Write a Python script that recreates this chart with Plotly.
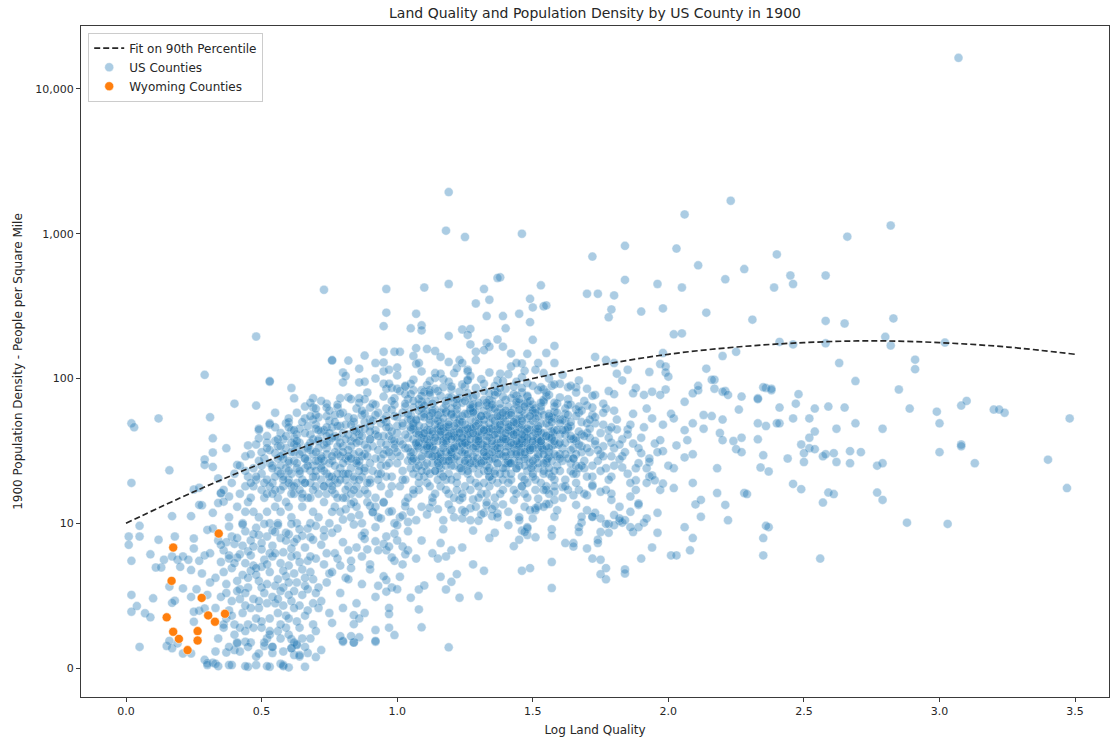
import plotly.graph_objects as go

# ---------------------------------------------------------------------------
# County values: (log land quality, people per square mile in 1900)
# ---------------------------------------------------------------------------

# Thin scatter above the main cloud, mostly x > 1.35
upper_east = [
    (3.07, 16400), (1.19, 1940), (1.46, 1000), (2.23, 1690), (2.06, 1360), (2.82, 1140),
    (2.66, 955), (1.84, 825), (1.72, 695), (2.03, 790), (2.40, 720), (2.11, 605),
    (2.28, 570), (2.45, 515), (2.58, 515), (2.46, 450), (2.39, 425), (2.21, 485),
    (1.84, 480), (1.96, 450), (2.05, 425), (1.70, 385), (1.74, 385), (1.80, 375),
    (1.53, 440), (1.38, 500), (1.49, 355), (1.50, 310), (1.54, 315), (1.55, 320),
    (1.79, 300), (1.78, 265), (1.90, 290), (1.98, 305), (2.14, 285), (2.31, 255),
    (2.58, 250), (2.65, 240), (2.83, 260), (1.39, 270), (1.40, 222), (1.45, 280),
    (1.49, 245), (1.50, 185), (1.58, 168), (1.55, 150), (1.58, 128), (1.73, 141),
    (1.77, 134), (1.80, 128), (2.02, 202), (2.05, 205), (1.98, 150), (1.97, 126),
    (1.99, 121), (1.99, 110), (1.93, 111), (1.85, 115), (1.81, 108), (1.83, 97),
    (2.00, 103), (2.14, 117), (2.17, 98), (2.20, 143), (2.25, 153), (2.41, 179),
    (2.46, 172), (2.58, 175), (2.80, 194), (2.82, 169), (3.02, 177), (2.63, 128),
    (2.91, 135), (2.91, 116), (2.36, 86), (2.38, 83), (2.33, 73), (2.27, 75),
    (2.21, 82), (2.17, 85), (2.11, 83), (1.99, 84), (1.97, 77), (1.94, 81),
    (1.88, 86), (1.87, 79), (1.91, 77), (1.78, 82), (1.80, 78), (1.73, 77),
    (1.70, 85), (1.66, 87), (1.63, 87), (1.60, 92), (1.57, 89), (1.52, 128),
    (1.46, 127), (1.42, 121), (1.47, 113), (1.48, 148), (1.44, 128), (1.42, 149),
    (1.39, 166), (1.38, 108), (1.54, 109),
]

# Thin scatter above the main cloud, x < 1.4
upper_west = [
    (1.18, 1050), (1.25, 950), (1.37, 495), (1.19, 450), (1.10, 425), (0.96, 415),
    (0.73, 410), (1.32, 415), (1.34, 350), (1.29, 330), (1.33, 270), (0.96, 285),
    (1.07, 280), (0.95, 230), (1.05, 222), (1.09, 233), (1.09, 215), (1.19, 197),
    (1.24, 218), (1.27, 220), (1.26, 200), (1.37, 186), (1.27, 172), (1.33, 176),
    (1.34, 166), (1.32, 157), (1.29, 153), (1.07, 162), (1.11, 160), (1.14, 155),
    (1.16, 141), (1.06, 143), (0.99, 153), (1.01, 153), (0.95, 153), (0.88, 144),
    (0.82, 133), (0.76, 133), (0.92, 128), (0.95, 129), (0.95, 112), (0.97, 115),
    (1.00, 119), (0.86, 117), (0.80, 110), (0.81, 104), (0.80, 94), (0.86, 94),
    (0.88, 95), (0.92, 100), (0.95, 92), (1.07, 126), (1.08, 128), (1.14, 109),
    (1.19, 130), (1.23, 134), (1.24, 128), (1.26, 115), (1.26, 112), (1.21, 109),
    (1.26, 98), (1.29, 134), (1.37, 97), (0.61, 86), (0.62, 73), (0.53, 95),
    (0.48, 195), (0.29, 106), (0.40, 67), (0.48, 65), (0.55, 58), (0.53, 48),
    (0.12, 53), (0.31, 54), (0.02, 49), (0.03, 46), (0.69, 73), (0.69, 63),
    (0.74, 67), (0.79, 73), (0.82, 74), (0.78, 63), (0.71, 54), (0.86, 73),
    (0.89, 80), (0.91, 67), (0.96, 85), (0.98, 86), (1.00, 85), (1.03, 89),
    (1.06, 83), (1.09, 83), (1.12, 83), (1.17, 99), (0.49, 44), (0.59, 49),
    (0.60, 53), (0.76, 134), (0.53, 96),
]

# Western fringe between 10 and 40 people per square mile
west_fringe = [
    (0.53, 49), (0.49, 45), (0.32, 38.6), (0.37, 33), (0.32, 30.8), (0.29, 27.6),
    (0.29, 25.3), (0.32, 24.5), (0.16, 23.2), (0.02, 19), (0.41, 25.3), (0.44, 29),
    (0.45, 34.5), (0.49, 38.6), (0.55, 30.5), (0.34, 20.4), (0.38, 15.3), (0.35, 16.2),
    (0.36, 14.1), (0.25, 17.1), (0.27, 17.6), (0.28, 13.3),
]

# Poor land, sparse settlement (x < 0.35)
far_west_low = [
    (0.05, 9.6), (0.01, 8.1), (0.01, 7.1), (0.05, 8.1), (0.02, 5.5), (0.09, 6.1),
    (0.12, 7.7), (0.18, 8.1), (0.02, 3.2), (0.04, 2.68), (0.02, 2.45), (0.07, 2.39),
    (0.09, 2.24), (0.10, 3.03), (0.05, 1.4), (0.15, 1.42), (0.16, 1.54), (0.11, 4.95),
    (0.13, 4.95), (0.14, 5.6), (0.17, 11.2), (0.17, 5.9), (0.19, 5.6), (0.20, 5.0),
    (0.21, 5.9), (0.24, 11.2), (0.25, 7.85), (0.25, 6.7), (0.23, 5.6), (0.24, 4.75),
    (0.21, 3.55), (0.18, 2.92), (0.16, 3.65), (0.17, 2.82), (0.26, 3.5), (0.24, 3.1),
    (0.27, 2.49), (0.25, 2.45), (0.25, 2.09), (0.29, 2.58), (0.30, 3.2), (0.31, 3.9),
    (0.28, 4.5), (0.27, 5.5), (0.29, 6.0), (0.31, 6.2), (0.30, 9.0), (0.32, 11.8),
    (0.35, 16.1), (0.34, 13.8), (0.27, 13.4), (0.32, 9.2), (0.34, 7.6), (0.24, 1.26),
    (0.29, 1.14), (0.30, 1.08), (0.32, 1.09), (0.38, 1.05), (0.45, 1.02), (0.48, 1.05),
    (0.53, 1.02), (0.58, 1.05), (0.17, 1.37), (0.21, 1.26), (0.19, 1.48),
]

# Lowest densities along the floor of the chart
floor = [
    (0.30, 1.05), (0.33, 1.07), (0.34, 1.03), (0.39, 1.05), (0.44, 1.03), (0.52, 1.03),
    (0.57, 1.07), (0.58, 1.03), (0.60, 1.01), (0.66, 1.02), (0.70, 1.19), (0.72, 1.33),
    (0.67, 1.27), (0.64, 1.2), (0.62, 1.23), (0.54, 1.27), (0.51, 1.42), (0.49, 1.26),
    (0.54, 1.4), (0.61, 1.37), (0.63, 1.46), (0.80, 1.52), (0.84, 1.5), (0.92, 1.52),
    (1.19, 1.39), (0.33, 1.3), (0.37, 1.28), (0.40, 1.33), (0.41, 1.48), (0.44, 1.52),
]

# Below 15 people per square mile, x from 0.75 to 2.4
low_middle = [
    (1.09, 1.91), (1.08, 2.54), (1.05, 3.06), (1.08, 3.49), (1.10, 3.72), (1.18, 3.49),
    (1.20, 3.94), (1.23, 3.06), (1.30, 3.14), (1.16, 4.27), (1.22, 4.45), (1.28, 5.2),
    (1.32, 4.7), (1.24, 6.8), (1.20, 6.5), (1.18, 5.9), (1.15, 5.7), (1.13, 6.2),
    (1.16, 7.3), (1.17, 9.1), (0.99, 1.69), (0.97, 1.9), (0.97, 2.36), (0.92, 1.83),
    (0.92, 1.54), (0.84, 1.5), (0.86, 1.63), (0.83, 1.66), (0.80, 1.54), (0.79, 1.66),
    (0.84, 2.32), (0.84, 2.01), (0.76, 2.05), (0.61, 1.58), (0.61, 1.37), (0.63, 1.44),
    (0.64, 1.23), (1.57, 3.57), (1.57, 5.4), (1.46, 4.7), (1.49, 4.9), (1.43, 6.95),
    (1.45, 7.7), (1.46, 8.9), (1.48, 8.3), (1.51, 8.0), (1.48, 9.2), (1.50, 10.8),
    (1.45, 10.5), (1.41, 9.7), (1.36, 8.6), (1.34, 7.9), (1.28, 8.9), (1.07, 5.7),
    (1.04, 6.5), (1.09, 7.6), (1.02, 6.9), (0.99, 5.5), (1.01, 4.27), (0.98, 3.6),
    (0.96, 3.37), (0.96, 4.05), (0.96, 6.5), (1.62, 7.3), (1.65, 7.3), (1.65, 6.9),
    (1.70, 6.7), (1.72, 5.7), (1.75, 5.6), (1.77, 4.9), (1.75, 4.45), (1.77, 4.1),
    (1.84, 4.8), (1.84, 4.5), (1.90, 5.7), (1.94, 6.8), (1.96, 8.6), (1.96, 11.8),
    (2.01, 6.0), (2.03, 6.0), (2.08, 6.5), (2.09, 7.9), (2.06, 9.4), (2.12, 11.1),
    (2.10, 13.5), (2.12, 14.5), (2.21, 13.4), (2.22, 10.5), (2.35, 7.9), (2.35, 6.0),
    (2.37, 9.4), (1.92, 10.8), (1.91, 10.1), (1.89, 9.4), (1.87, 8.7), (1.82, 10.4),
    (1.83, 10.1), (1.78, 9.9), (1.78, 8.6), (1.75, 8.7), (1.74, 7.7), (1.74, 7.3),
    (1.73, 11.8), (1.72, 11.1), (1.68, 10.1), (1.67, 8.7), (1.79, 14.5), (1.89, 13.4),
    (1.59, 12.3), (1.56, 13.6), (1.57, 9.1), (1.57, 8.2), (1.51, 12.3), (1.52, 13.1),
    (1.55, 13.6), (1.47, 8.7), (1.37, 11.7), (1.35, 11.2), (1.32, 11.8), (1.30, 10.4),
    (1.33, 13.3), (1.27, 12.7), (1.24, 12.3),
]

# Best land, x > 2.4
far_east = [
    (2.69, 96), (2.85, 84), (2.48, 78), (2.47, 67), (2.41, 63), (2.54, 62),
    (2.59, 64), (2.65, 63), (2.89, 62), (2.99, 59), (3.08, 65), (3.10, 70),
    (3.20, 61), (3.22, 61), (3.24, 58), (3.48, 53), (2.46, 53), (2.52, 53),
    (2.41, 49), (2.69, 49), (2.62, 45), (2.79, 45), (3.00, 49), (2.54, 43),
    (2.52, 39), (2.49, 35), (2.52, 33), (2.54, 32.5), (2.50, 30.5), (2.44, 28),
    (2.50, 26.5), (2.57, 29), (2.58, 30), (2.61, 30.5), (2.62, 26.5), (2.67, 31.5),
    (2.71, 31), (2.67, 26), (2.77, 25), (2.79, 26), (3.00, 31), (3.08, 35),
    (3.08, 34), (3.13, 26), (3.40, 27.5), (3.47, 17.5), (2.46, 18.7), (2.49, 17.2),
    (2.59, 16.3), (2.61, 15.9), (2.57, 13.9), (2.77, 16.3), (2.79, 14.5), (2.88, 10.1),
    (3.03, 9.9), (2.56, 5.7),
]

# Between the main cloud and x = 2.4
east_middle = [
    (2.06, 69), (2.09, 79), (2.11, 89), (2.16, 98), (2.20, 81), (2.22, 77),
    (2.33, 72), (2.35, 87), (2.38, 85), (2.36, 47), (2.33, 49), (2.40, 49),
    (2.26, 61), (2.20, 52), (2.16, 55), (2.13, 56), (2.13, 45), (2.19, 42),
    (2.09, 49), (2.06, 44), (2.02, 53), (2.01, 57), (1.98, 48), (2.24, 37),
    (2.27, 39), (2.25, 32.5), (2.27, 31), (2.20, 37.5), (2.33, 38), (2.35, 29.5),
    (2.34, 24.3), (2.37, 22.8), (2.18, 24), (2.07, 37.5), (2.06, 28.5), (2.09, 30),
    (2.03, 34.5), (1.98, 31.5), (2.02, 24), (2.00, 25), (2.09, 19), (2.18, 16.2),
    (2.28, 16.2), (2.29, 15.9), (2.36, 9.6), (2.02, 17.5), (1.97, 17), (1.98, 18.8),
    (1.96, 31), (1.95, 35.5), (1.97, 37.5), (1.93, 26.5), (1.92, 24), (1.93, 21),
    (1.89, 26), (1.90, 30.5), (1.87, 35.5), (1.83, 38), (1.85, 44.5), (1.81, 44.5),
    (1.79, 46), (1.80, 33), (1.79, 29), (1.82, 27.6), (1.80, 25), (1.77, 24),
    (1.79, 21), (1.83, 24.3), (1.85, 22), (1.94, 21.4), (1.95, 19.8), (1.88, 19.8),
    (1.92, 19), (1.86, 19), (1.88, 17), (1.86, 15.3), (1.89, 13.7), (1.86, 12),
    (1.84, 10.5), (1.82, 10.8), (1.80, 11.4), (1.80, 9.7), (1.82, 13), (1.79, 16),
    (1.77, 17), (1.75, 16.5), (1.72, 18.4), (1.72, 21), (1.70, 15.6), (1.67, 17),
    (1.65, 15.6), (1.66, 13.4), (1.70, 12.3), (1.68, 11.1), (1.72, 11.1), (1.75, 10.8),
    (1.77, 9.9), (1.86, 9.4), (1.58, 16.5), (1.61, 17.8), (1.55, 17), (1.58, 14.5),
    (1.52, 14.8), (1.54, 13), (1.51, 12.7), (1.49, 12.3), (1.48, 9.4), (1.58, 11.1),
    (1.67, 9.4),
    (1.61, 27), (1.63, 45), (1.65, 33), (1.67, 58), (1.69, 24), (1.71, 39),
    (1.73, 49), (1.75, 30), (1.77, 62), (1.79, 36), (1.81, 52), (1.83, 29),
    (1.85, 41), (1.87, 57), (1.89, 33), (1.91, 46), (1.93, 28), (1.62, 51),
    (1.66, 37), (1.70, 65), (1.74, 27), (1.78, 44), (1.82, 35), (1.86, 48),
    (1.90, 39), (1.94, 53), (1.64, 23), (1.68, 31), (1.72, 56), (1.76, 34),
    (1.80, 60), (1.84, 31), (1.88, 24), (1.92, 62),
]

# Main cloud, 10 to 22 people per square mile
core_10_22 = [
    (1.01, 11), (1.03, 14), (1.05, 12), (1.07, 10.5), (1.09, 13), (1.11, 11.5),
    (1.13, 14), (1.15, 12.5), (1.17, 10.5), (1.19, 13.5), (1.21, 11), (1.23, 14.5),
    (1.25, 12), (1.27, 10.5), (1.29, 13), (1.31, 11.5), (1.33, 14), (1.35, 12.5),
    (1.37, 11), (1.39, 13.5), (1.41, 12), (1.43, 14.5), (1.45, 11), (1.47, 13),
    (1.12, 12.8), (1.20, 12.4), (1.28, 14.6), (1.36, 13.2), (1.04, 10.2), (1.24, 10.8),
    (0.97, 16), (1.01, 18), (1.04, 15), (1.08, 17), (1.11, 19), (1.13, 15),
    (1.16, 18), (1.19, 16), (1.22, 19), (1.24, 15), (1.27, 17), (1.29, 19),
    (1.31, 16), (1.34, 18), (1.36, 15), (1.39, 17), (1.41, 19), (1.44, 16),
    (1.46, 18), (1.48, 15), (1.51, 17), (1.53, 19), (1.56, 16), (1.58, 18),
    (1.61, 15), (1.63, 17), (1.66, 19), (1.69, 16), (1.72, 18), (1.06, 16),
    (1.18, 17), (1.25, 18), (1.33, 16), (1.43, 17), (1.55, 18), (1.21, 15),
    (1.37, 19), (1.47, 16), (1.12, 18), (1.30, 15),
    (1.02, 20), (1.06, 17), (1.10, 21), (1.14, 16), (1.18, 20), (1.22, 17),
    (1.26, 22), (1.30, 18), (1.34, 21), (1.38, 16), (1.42, 20), (1.46, 18),
    (1.50, 21), (1.54, 17), (1.58, 20), (1.62, 18), (1.66, 22), (1.08, 19),
    (1.16, 22), (1.24, 16), (1.32, 19), (1.40, 22), (1.48, 19), (1.56, 22),
]

# Main cloud, 20 to 36 people per square mile
core_20_36 = [
    (0.93, 22), (0.96, 25), (0.98, 21), (1.00, 26), (1.02, 23), (1.03, 20),
    (1.05, 24), (1.07, 27), (1.08, 21), (1.10, 25), (1.12, 22), (1.13, 26),
    (1.15, 20), (1.16, 24), (1.18, 27), (1.19, 22), (1.21, 25), (1.22, 21),
    (1.24, 23), (1.25, 26), (1.27, 20), (1.28, 24), (1.30, 22), (1.31, 27),
    (1.33, 25), (1.34, 21), (1.36, 23), (1.37, 26), (1.39, 20), (1.40, 24),
    (1.42, 22), (1.43, 27), (1.45, 25), (1.46, 21), (1.48, 23), (1.49, 26),
    (1.51, 20), (1.52, 24), (1.54, 22), (1.55, 26), (1.57, 21), (1.59, 25),
    (1.60, 23), (1.62, 20), (1.64, 26), (1.65, 22), (1.67, 24), (1.70, 21),
    (1.72, 25), (1.75, 23), (1.78, 20), (1.06, 22), (1.14, 23), (1.20, 20),
    (1.26, 25), (1.32, 23), (1.38, 22), (1.44, 24), (1.50, 22), (1.58, 23),
    (1.35, 20), (1.29, 26), (1.23, 24), (1.17, 21), (1.11, 23), (1.41, 26),
    (1.47, 20),
    (0.88, 30), (0.91, 34), (0.94, 28), (0.96, 32), (0.99, 35), (1.01, 29),
    (1.03, 33), (1.04, 27), (1.06, 31), (1.07, 35), (1.09, 28), (1.10, 32),
    (1.12, 30), (1.13, 34), (1.15, 27), (1.16, 31), (1.17, 35), (1.19, 29),
    (1.20, 33), (1.21, 28), (1.23, 32), (1.24, 36), (1.25, 30), (1.27, 34),
    (1.28, 27), (1.29, 31), (1.31, 35), (1.32, 29), (1.33, 33), (1.35, 28),
    (1.36, 32), (1.37, 36), (1.38, 30), (1.40, 34), (1.41, 27), (1.42, 31),
    (1.44, 35), (1.45, 29), (1.46, 33), (1.48, 28), (1.49, 32), (1.50, 36),
    (1.52, 30), (1.53, 34), (1.55, 27), (1.56, 31), (1.58, 35), (1.59, 29),
    (1.61, 33), (1.63, 28), (1.64, 32), (1.66, 30), (1.68, 34), (1.69, 27),
    (1.71, 31), (1.73, 35), (1.76, 29), (0.86, 27), (1.00, 31), (1.05, 29),
    (1.11, 33), (1.14, 29), (1.18, 31), (1.22, 34), (1.26, 28), (1.30, 33),
    (1.34, 30), (1.39, 29), (1.43, 33), (1.47, 30), (1.51, 28), (1.54, 32),
    (1.57, 34), (1.60, 30), (1.65, 28), (1.08, 33), (1.20, 30), (1.32, 31),
    (1.44, 31), (1.56, 29), (1.26, 35), (1.36, 34), (1.16, 28), (1.46, 36),
    (1.12, 36), (1.48, 34), (1.52, 33),
]

# Heart of the main cloud, 22 to 88 people per square mile
core_heart = [
    (1.05, 31), (1.06, 38), (1.07, 24), (1.08, 43), (1.09, 29), (1.10, 35),
    (1.11, 26), (1.12, 40), (1.13, 33), (1.14, 23), (1.15, 44), (1.16, 30),
    (1.17, 37), (1.18, 25), (1.19, 41), (1.20, 28), (1.21, 34), (1.22, 45),
    (1.23, 27), (1.24, 39), (1.25, 32), (1.26, 23), (1.27, 42), (1.28, 29),
    (1.29, 36), (1.30, 25), (1.31, 40), (1.32, 31), (1.33, 44), (1.34, 27),
    (1.35, 35), (1.36, 22), (1.37, 38), (1.38, 33), (1.39, 43), (1.40, 26),
    (1.41, 37), (1.42, 30), (1.43, 41), (1.44, 24), (1.45, 34), (1.46, 45),
    (1.47, 28), (1.48, 38), (1.49, 32), (1.50, 25), (1.51, 42), (1.52, 29),
    (1.53, 36), (1.54, 23), (1.55, 40), (1.56, 33), (1.57, 27), (1.58, 44),
    (1.055, 27), (1.075, 34), (1.095, 41), (1.115, 30), (1.135, 37), (1.155, 25),
    (1.175, 43), (1.195, 32), (1.215, 39), (1.235, 24), (1.255, 36), (1.275, 45),
    (1.295, 28), (1.315, 35), (1.335, 23), (1.355, 41), (1.375, 30), (1.395, 38),
    (1.415, 26), (1.435, 44), (1.455, 31), (1.475, 36), (1.495, 24), (1.515, 39),
    (1.535, 33), (1.555, 28), (1.575, 42), (1.595, 35), (1.62, 30), (1.64, 38),
    (1.66, 25), (1.68, 41), (1.70, 33),
    (1.06, 45), (1.09, 23), (1.12, 34), (1.15, 29), (1.18, 36), (1.21, 42),
    (1.24, 31), (1.27, 26), (1.30, 38), (1.33, 34), (1.36, 28), (1.39, 24),
    (1.42, 40), (1.45, 27), (1.48, 43), (1.51, 35), (1.54, 30), (1.57, 38),
    (1.11, 44), (1.17, 27), (1.23, 36), (1.29, 41), (1.35, 31), (1.41, 34),
    (1.47, 25), (1.53, 42), (1.14, 32), (1.20, 25), (1.26, 40), (1.32, 27),
    (1.38, 36), (1.44, 30), (1.50, 33), (1.56, 24), (1.08, 36), (1.16, 41),
    (1.22, 29), (1.28, 33), (1.34, 43), (1.40, 31), (1.46, 37), (1.52, 26),
    (0.96, 62), (0.98, 29), (1.00, 47), (1.01, 37), (1.03, 78), (1.04, 33),
    (1.05, 56), (1.07, 42), (1.08, 25), (1.09, 69), (1.10, 38), (1.12, 52),
    (1.13, 29), (1.14, 85), (1.15, 45), (1.17, 33), (1.18, 58), (1.19, 27),
    (1.20, 74), (1.21, 40), (1.23, 50), (1.24, 35), (1.25, 88), (1.26, 30),
    (1.27, 46), (1.28, 66), (1.30, 40), (1.31, 26), (1.32, 71), (1.33, 37),
    (1.34, 55), (1.35, 45), (1.36, 81), (1.37, 33), (1.38, 51), (1.40, 29),
    (1.41, 64), (1.42, 43), (1.43, 35), (1.44, 76), (1.45, 39), (1.46, 53),
    (1.47, 31), (1.48, 68), (1.49, 44), (1.50, 27), (1.51, 62), (1.52, 38),
    (1.53, 49), (1.54, 84), (1.55, 34), (1.56, 57), (1.57, 43), (1.58, 30),
    (1.59, 67), (1.60, 41), (1.61, 52), (1.62, 36), (1.63, 72), (1.64, 47),
    (1.65, 28), (1.66, 61), (1.67, 35), (1.68, 50), (1.70, 42), (1.72, 63),
    (1.74, 32), (1.76, 48),
    (0.97, 40), (0.99, 73), (1.02, 35), (1.04, 52), (1.06, 28), (1.08, 47),
    (1.10, 81), (1.11, 34), (1.13, 60), (1.15, 26), (1.16, 50), (1.18, 39),
    (1.20, 31), (1.22, 57), (1.23, 44), (1.25, 27), (1.27, 60), (1.29, 34),
    (1.30, 52), (1.32, 43), (1.34, 24), (1.35, 62), (1.37, 45), (1.39, 38),
    (1.40, 56), (1.42, 26), (1.43, 50), (1.45, 68), (1.47, 40), (1.49, 33),
    (1.50, 58), (1.52, 45), (1.54, 26), (1.56, 39), (1.58, 53), (1.60, 28),
    (1.62, 44), (1.64, 66), (1.66, 39), (1.68, 25), (1.25, 44), (1.33, 29),
    (1.19, 46), (1.41, 48), (1.29, 58), (1.37, 26), (1.21, 33), (1.45, 35),
    (1.13, 41), (1.53, 37),
]

# Main cloud, 36 to 80 people per square mile
core_36_80 = [
    (0.90, 38), (0.92, 44), (0.95, 40), (0.97, 46), (0.99, 37), (1.00, 42),
    (1.02, 47), (1.04, 39), (1.05, 44), (1.07, 36), (1.08, 41), (1.10, 46),
    (1.11, 38), (1.13, 43), (1.14, 48), (1.16, 40), (1.17, 45), (1.18, 37),
    (1.20, 42), (1.21, 47), (1.22, 39), (1.24, 44), (1.25, 36), (1.26, 41),
    (1.28, 46), (1.29, 38), (1.30, 43), (1.32, 48), (1.33, 40), (1.34, 45),
    (1.35, 37), (1.37, 42), (1.38, 47), (1.39, 39), (1.41, 44), (1.42, 36),
    (1.43, 41), (1.45, 46), (1.46, 38), (1.47, 43), (1.49, 48), (1.50, 40),
    (1.51, 45), (1.53, 37), (1.54, 42), (1.56, 47), (1.57, 39), (1.59, 44),
    (1.60, 36), (1.62, 41), (1.63, 46), (1.65, 38), (1.67, 43), (1.69, 40),
    (1.71, 45), (1.73, 37), (1.75, 42), (1.78, 39), (0.86, 41), (0.83, 37),
    (1.03, 41), (1.09, 39), (1.12, 44), (1.15, 37), (1.19, 40), (1.23, 42),
    (1.27, 38), (1.31, 45), (1.36, 41), (1.40, 38), (1.44, 42), (1.48, 39),
    (1.52, 43), (1.55, 40), (1.58, 37), (1.61, 44), (1.64, 40), (1.06, 47),
    (1.18, 46), (1.28, 42), (1.38, 44), (1.48, 45), (1.20, 38), (1.34, 39),
    (1.42, 47), (1.26, 45), (1.16, 43), (1.46, 41), (1.30, 37), (1.36, 47),
    (1.24, 39), (1.40, 42), (1.50, 37), (1.10, 42), (1.32, 44), (1.14, 39),
    (1.44, 37),
    (0.90, 52), (0.93, 58), (0.96, 50), (0.98, 61), (1.00, 54), (1.02, 49),
    (1.04, 57), (1.06, 63), (1.07, 51), (1.09, 55), (1.11, 60), (1.12, 49),
    (1.14, 53), (1.16, 58), (1.17, 62), (1.19, 50), (1.20, 56), (1.22, 61),
    (1.23, 52), (1.25, 48), (1.26, 57), (1.28, 63), (1.29, 51), (1.31, 55),
    (1.32, 60), (1.34, 49), (1.35, 53), (1.37, 58), (1.38, 62), (1.40, 50),
    (1.41, 56), (1.43, 61), (1.44, 52), (1.46, 48), (1.47, 57), (1.49, 63),
    (1.50, 51), (1.52, 55), (1.53, 60), (1.55, 49), (1.57, 54), (1.58, 59),
    (1.60, 52), (1.62, 57), (1.64, 50), (1.66, 55), (1.68, 60), (1.70, 49),
    (1.73, 54), (1.76, 58), (0.87, 56), (0.84, 50), (1.05, 52), (1.10, 57),
    (1.15, 51), (1.21, 54), (1.27, 52), (1.33, 56), (1.39, 53), (1.45, 55),
    (1.51, 58), (1.56, 52), (1.62, 62), (1.18, 59), (1.30, 49), (1.42, 58),
    (1.24, 55), (1.36, 51), (1.48, 53), (1.08, 60), (1.20, 62), (1.34, 63),
    (1.46, 60), (1.28, 58), (1.38, 55), (1.54, 56), (1.12, 55), (1.40, 60),
    (1.22, 49), (1.44, 49),
    (1.02, 58), (1.04, 72), (1.06, 49), (1.08, 66), (1.10, 54), (1.12, 77),
    (1.14, 61), (1.16, 47), (1.18, 70), (1.20, 57), (1.22, 65), (1.24, 50),
    (1.26, 74), (1.28, 59), (1.30, 68), (1.32, 52), (1.34, 79), (1.36, 62),
    (1.38, 48), (1.40, 71), (1.42, 56), (1.44, 66), (1.46, 51), (1.48, 76),
    (1.50, 60), (1.52, 47), (1.54, 69), (1.56, 55), (1.58, 64), (1.60, 49),
    (1.03, 64), (1.07, 52), (1.11, 69), (1.15, 56), (1.19, 48), (1.23, 73),
    (1.27, 62), (1.31, 55), (1.35, 70), (1.39, 58), (1.43, 50), (1.47, 67),
    (1.51, 53), (1.55, 75), (1.59, 58), (1.05, 46), (1.13, 58), (1.21, 68),
    (1.29, 47), (1.37, 55), (1.45, 61), (1.53, 64), (1.09, 62), (1.17, 53),
    (1.25, 57), (1.33, 65), (1.41, 46), (1.49, 55), (1.57, 50), (1.63, 56),
    (1.67, 64), (1.71, 52), (0.99, 66), (0.96, 55), (0.94, 49),
]

# Top of the main cloud, 64 to 120 people per square mile
core_64_120 = [
    (0.92, 66), (0.95, 75), (0.98, 70), (1.01, 82), (1.03, 67), (1.05, 78),
    (1.08, 72), (1.10, 65), (1.12, 80), (1.14, 70), (1.16, 76), (1.18, 66),
    (1.20, 84), (1.22, 72), (1.24, 68), (1.26, 79), (1.28, 74), (1.30, 65),
    (1.32, 82), (1.34, 71), (1.36, 77), (1.38, 67), (1.40, 85), (1.42, 73),
    (1.44, 69), (1.46, 80), (1.48, 75), (1.50, 66), (1.52, 83), (1.54, 71),
    (1.56, 77), (1.58, 68), (1.60, 74), (1.63, 66), (1.66, 80), (1.69, 70),
    (1.72, 76), (1.76, 67), (0.88, 72), (1.06, 70), (1.15, 82), (1.25, 70),
    (1.35, 66), (1.45, 72), (1.55, 80), (1.19, 74), (1.29, 77), (1.39, 75),
    (1.49, 70), (1.09, 76), (1.33, 68), (1.43, 78), (1.23, 81), (1.53, 68),
    (1.13, 67), (1.37, 80), (1.27, 66), (1.47, 64),
    (0.97, 92), (1.00, 105), (1.03, 88), (1.06, 98), (1.09, 112), (1.11, 90),
    (1.14, 101), (1.17, 87), (1.19, 95), (1.22, 118), (1.24, 91), (1.27, 104),
    (1.29, 86), (1.31, 99), (1.34, 110), (1.36, 89), (1.39, 96), (1.41, 107),
    (1.43, 88), (1.46, 102), (1.48, 93), (1.51, 115), (1.53, 87), (1.56, 100),
    (1.58, 91), (1.61, 106), (1.64, 89), (1.67, 97), (1.20, 88), (1.32, 92),
    (1.44, 95), (1.26, 97), (1.38, 86), (1.50, 89), (1.12, 96), (1.16, 108),
    (1.46, 86), (1.05, 92),
]

# Rising band on moderate land, x from 0.35 to 1.0
west_band = [
    (0.38, 11), (0.41, 13), (0.43, 10), (0.45, 14), (0.47, 12), (0.49, 11),
    (0.51, 15), (0.53, 10), (0.55, 13), (0.57, 12), (0.59, 14), (0.61, 11),
    (0.63, 10), (0.65, 13), (0.67, 15), (0.69, 12), (0.71, 11), (0.73, 14),
    (0.75, 10), (0.77, 13), (0.79, 12), (0.81, 15), (0.83, 11), (0.85, 13),
    (0.87, 10), (0.89, 14), (0.91, 12), (0.93, 11), (0.95, 14), (0.97, 12),
    (0.99, 10), (0.44, 12), (0.52, 12), (0.60, 13), (0.68, 10), (0.76, 12),
    (0.84, 14), (0.92, 13), (0.56, 10),
    (0.36, 17), (0.39, 19), (0.42, 16), (0.44, 18), (0.46, 15), (0.48, 20),
    (0.50, 17), (0.52, 16), (0.54, 19), (0.56, 15), (0.58, 18), (0.60, 20),
    (0.62, 16), (0.64, 17), (0.66, 19), (0.68, 15), (0.70, 18), (0.72, 20),
    (0.74, 16), (0.76, 17), (0.78, 19), (0.80, 15), (0.82, 18), (0.84, 20),
    (0.86, 16), (0.88, 17), (0.90, 19), (0.92, 15), (0.94, 18), (0.47, 18),
    (0.53, 18), (0.57, 17), (0.61, 18), (0.65, 16), (0.69, 17), (0.73, 18),
    (0.77, 16), (0.81, 17), (0.85, 18), (0.89, 16), (0.51, 19), (0.63, 19),
    (0.75, 19), (0.83, 16), (0.71, 16),
    (0.40, 22), (0.42, 25), (0.45, 21), (0.47, 24), (0.49, 27), (0.50, 22),
    (0.52, 20), (0.54, 25), (0.56, 23), (0.58, 21), (0.60, 26), (0.61, 22),
    (0.63, 24), (0.65, 20), (0.67, 27), (0.68, 23), (0.70, 21), (0.72, 25),
    (0.74, 22), (0.75, 26), (0.77, 20), (0.79, 24), (0.80, 22), (0.82, 27),
    (0.84, 21), (0.86, 25), (0.88, 23), (0.90, 20), (0.55, 21), (0.59, 24),
    (0.64, 22), (0.69, 25), (0.73, 23), (0.78, 22), (0.83, 24), (0.87, 21),
    (0.53, 26), (0.62, 27), (0.71, 27), (0.81, 20), (0.44, 23), (0.57, 25),
    (0.66, 24), (0.76, 21), (0.85, 26),
    (0.46, 30), (0.48, 35), (0.51, 28), (0.53, 32), (0.55, 37), (0.57, 29),
    (0.59, 33), (0.60, 27), (0.62, 31), (0.64, 36), (0.66, 28), (0.67, 34),
    (0.69, 30), (0.71, 37), (0.72, 29), (0.74, 33), (0.76, 27), (0.77, 31),
    (0.79, 36), (0.81, 28), (0.83, 34), (0.84, 30), (0.86, 37), (0.58, 30),
    (0.63, 34), (0.68, 32), (0.73, 35), (0.78, 30), (0.82, 32), (0.61, 36),
    (0.70, 27), (0.75, 37), (0.65, 31), (0.80, 34), (0.56, 34), (0.52, 36),
    (0.87, 29), (0.89, 33), (0.50, 31), (0.74, 30),
    (0.52, 40), (0.55, 46), (0.57, 42), (0.60, 50), (0.62, 39), (0.64, 45),
    (0.66, 53), (0.68, 41), (0.70, 48), (0.71, 38), (0.73, 44), (0.75, 51),
    (0.77, 40), (0.79, 47), (0.80, 42), (0.82, 54), (0.84, 39), (0.86, 45),
    (0.88, 50), (0.63, 41), (0.67, 47), (0.72, 43), (0.76, 46), (0.81, 48),
    (0.69, 52), (0.58, 38), (0.78, 39), (0.85, 43), (0.74, 55), (0.61, 44),
    (0.63, 58), (0.66, 64), (0.70, 56), (0.72, 70), (0.75, 60), (0.78, 66),
    (0.80, 58), (0.83, 72), (0.85, 62), (0.88, 57), (0.68, 68), (0.74, 63),
    (0.86, 68), (0.90, 63), (0.77, 56),
    (0.55, 17), (0.58, 28), (0.60, 19), (0.62, 35), (0.64, 23), (0.66, 42),
    (0.68, 19), (0.70, 31), (0.72, 24), (0.74, 46), (0.76, 18), (0.78, 34),
    (0.80, 26), (0.82, 41), (0.84, 17), (0.86, 31), (0.88, 24), (0.90, 47),
    (0.92, 28), (0.94, 36), (0.96, 21), (0.98, 43), (0.57, 22), (0.61, 31),
    (0.65, 15), (0.69, 38), (0.73, 27), (0.77, 50), (0.81, 22), (0.85, 36),
    (0.89, 19), (0.93, 32), (0.97, 26), (0.59, 40), (0.63, 26), (0.67, 33),
    (0.71, 44), (0.75, 21), (0.79, 29), (0.83, 48), (0.87, 40), (0.91, 23),
    (0.95, 52), (0.99, 33), (0.54, 24), (0.56, 38), (0.62, 18), (0.66, 28),
    (0.70, 23), (0.74, 36), (0.78, 15), (0.82, 29), (0.86, 20), (0.90, 38),
    (0.94, 25), (0.98, 18), (0.60, 46), (0.68, 55), (0.76, 39), (0.84, 53),
    (0.92, 41), (0.48, 21), (0.50, 25), (0.46, 19), (0.52, 33),
    (0.60, 23), (0.62, 44), (0.64, 30), (0.66, 19), (0.68, 36), (0.70, 62),
    (0.72, 28), (0.73, 18), (0.75, 42), (0.77, 25), (0.79, 57), (0.80, 31),
    (0.82, 22), (0.84, 44), (0.85, 27), (0.87, 60), (0.88, 35), (0.90, 26),
    (0.91, 51), (0.93, 40), (0.94, 22), (0.96, 46), (0.97, 31), (0.99, 55),
    (0.63, 37), (0.67, 25), (0.71, 33), (0.76, 29), (0.81, 38), (0.86, 23),
    (0.90, 43), (0.95, 30), (0.98, 38), (0.58, 20), (0.65, 50), (0.69, 21),
    (0.74, 40), (0.78, 47), (0.83, 28), (0.89, 29), (0.92, 56), (0.96, 35),
    (0.56, 28), (0.61, 16), (0.70, 45), (0.79, 20), (0.88, 45), (0.93, 20),
    (0.54, 16), (0.57, 34),
]

# Dense low-density block on poor land, x from 0.33 to 0.8
southwest_block = [
    (0.34, 8.5), (0.36, 6.5), (0.38, 9.5), (0.40, 7.2), (0.42, 6.1), (0.44, 8.8),
    (0.46, 7.6), (0.48, 9.3), (0.50, 6.6), (0.52, 8.1), (0.54, 7.0), (0.56, 9.7),
    (0.58, 6.3), (0.60, 8.4), (0.62, 7.4), (0.64, 9.1), (0.66, 6.8), (0.68, 8.0),
    (0.70, 9.6), (0.72, 7.1), (0.74, 6.2), (0.76, 8.6), (0.39, 8.1), (0.45, 6.4),
    (0.51, 9.9), (0.57, 7.9), (0.63, 6.0), (0.69, 7.7), (0.43, 9.8), (0.55, 8.7),
    (0.61, 9.9), (0.67, 9.2), (0.47, 6.9), (0.53, 6.2), (0.59, 7.6), (0.65, 8.2),
    (0.41, 7.9), (0.73, 9.0), (0.37, 7.4), (0.49, 8.3),
    (0.33, 4.2), (0.35, 5.4), (0.37, 3.8), (0.39, 4.9), (0.41, 5.8), (0.43, 4.4),
    (0.45, 3.6), (0.47, 5.1), (0.49, 4.0), (0.51, 5.6), (0.53, 4.6), (0.55, 3.7),
    (0.57, 5.3), (0.59, 4.3), (0.61, 5.9), (0.63, 3.9), (0.65, 4.8), (0.67, 5.5),
    (0.69, 4.1), (0.71, 3.6), (0.73, 5.2), (0.75, 4.5), (0.78, 5.7), (0.81, 4.2),
    (0.38, 5.7), (0.42, 3.5), (0.46, 4.7), (0.50, 5.0), (0.54, 5.9), (0.58, 3.6),
    (0.62, 4.5), (0.66, 3.7), (0.70, 5.7), (0.44, 5.3), (0.52, 3.8), (0.60, 5.1),
    (0.68, 4.6), (0.36, 4.6), (0.48, 4.4), (0.56, 4.1),
    (0.33, 2.6), (0.35, 3.1), (0.37, 2.2), (0.39, 2.9), (0.41, 3.4), (0.43, 2.4),
    (0.45, 2.0), (0.47, 3.0), (0.49, 2.6), (0.51, 3.3), (0.53, 2.2), (0.55, 2.8),
    (0.57, 3.4), (0.59, 2.3), (0.61, 2.9), (0.63, 2.1), (0.65, 3.2), (0.67, 2.5),
    (0.69, 2.0), (0.72, 2.9), (0.75, 2.4), (0.38, 2.5), (0.42, 3.0), (0.46, 2.6),
    (0.50, 2.1), (0.54, 3.1), (0.58, 2.7), (0.62, 3.4), (0.66, 2.3), (0.40, 2.0),
    (0.48, 2.2), (0.56, 2.4), (0.64, 2.7), (0.44, 3.3), (0.52, 2.8), (0.60, 3.2),
    (0.36, 2.0), (0.70, 3.3),
    (0.34, 1.6), (0.36, 1.9), (0.38, 1.4), (0.40, 1.7), (0.42, 1.3), (0.44, 1.8),
    (0.46, 1.5), (0.48, 1.2), (0.50, 1.9), (0.52, 1.6), (0.54, 1.4), (0.56, 1.8),
    (0.58, 1.3), (0.60, 1.7), (0.62, 1.5), (0.64, 1.9), (0.66, 1.4), (0.68, 1.6),
    (0.41, 1.5), (0.47, 1.9), (0.53, 1.7), (0.59, 1.9), (0.45, 1.4), (0.57, 1.6),
    (0.35, 7.1), (0.40, 5.3), (0.44, 2.7), (0.47, 8.4), (0.50, 3.6), (0.53, 1.8),
    (0.55, 6.2), (0.58, 4.7), (0.60, 2.2), (0.63, 7.8), (0.65, 1.6), (0.68, 5.9),
    (0.71, 2.6), (0.73, 8.1), (0.37, 3.3), (0.42, 1.9), (0.46, 6.0), (0.49, 2.9),
    (0.52, 5.2), (0.56, 3.0), (0.59, 8.6), (0.62, 2.6), (0.64, 5.4), (0.67, 3.5),
    (0.70, 1.8), (0.39, 2.3), (0.43, 7.0), (0.48, 4.9), (0.51, 1.5), (0.57, 2.0),
    (0.61, 6.7), (0.66, 4.2), (0.69, 2.8), (0.74, 3.9), (0.45, 4.2), (0.54, 8.9),
    (0.38, 6.0), (0.41, 4.0), (0.50, 7.3), (0.60, 3.9),
]

# Moderate land below 14 people per square mile, x from 0.76 to 1.05
south_middle = [
    (0.78, 9.2), (0.81, 12.5), (0.84, 9.8), (0.86, 11.4), (0.88, 8.6), (0.90, 13.2),
    (0.92, 9.4), (0.94, 10.8), (0.96, 8.1), (0.98, 12.1), (1.00, 9.7), (1.02, 11.3),
    (1.04, 8.8), (0.80, 10.6), (0.83, 13.6), (0.87, 8.2), (0.91, 11.9), (0.95, 13.9),
    (0.99, 8.5), (1.03, 13.1),
    (0.77, 6.2), (0.80, 7.4), (0.83, 5.5), (0.85, 6.8), (0.88, 7.8), (0.90, 5.2),
    (0.93, 6.5), (0.95, 7.2), (0.98, 5.8), (1.00, 7.6), (1.03, 6.1), (0.87, 5.9),
    (0.97, 6.9), (0.82, 6.5), (0.92, 7.5), (1.02, 5.2), (0.79, 5.1), (0.89, 6.6),
    (0.76, 4.6), (0.79, 3.3), (0.82, 4.1), (0.85, 2.8), (0.87, 3.8), (0.90, 4.8),
    (0.92, 3.1), (0.95, 4.3), (0.97, 2.6), (1.00, 3.5), (0.80, 2.6), (0.88, 2.4),
    (0.83, 4.9), (0.93, 3.7), (0.86, 2.2),
]

# Wyoming's counties
wyoming_x = [0.342, 0.174, 0.168, 0.279, 0.150, 0.303, 0.365, 0.328, 0.174, 0.264, 0.195, 0.264, 0.227]
wyoming_y = [8.49, 6.80, 4.00, 3.05, 2.24, 2.31, 2.37, 2.09, 1.78, 1.80, 1.59, 1.55, 1.33]

# Curve fitted on the 90th percentile
fit_x = [0.0, 0.25, 0.5, 0.75, 1.0, 1.25, 1.5, 1.75, 2.0, 2.25, 2.5, 2.75, 3.0, 3.25, 3.5]
fit_y = [10, 16.5, 26, 39, 56, 77, 100, 124, 147, 165, 177, 182, 177, 165, 147]

# Axis ticks
x_ticks = [0.0, 0.5, 1.0, 1.5, 2.0, 2.5, 3.0, 3.5]
y_ticks = [1, 10, 100, 1000, 10000]
y_tick_labels = ["0", "10", "100", "1,000", "10,000"]

# ---------------------------------------------------------------------------

us_points = (upper_east + upper_west + west_fringe + far_west_low + floor + low_middle
             + far_east + east_middle + core_10_22 + core_20_36 + core_heart + core_36_80
             + core_64_120 + west_band + southwest_block + south_middle)
us_x = [p[0] for p in us_points]
us_y = [p[1] for p in us_points]

FONT = "DejaVu Sans"
INK = "#262626"
SPINE = "#3a3a3a"

fig = go.Figure()

fig.add_trace(go.Scatter(
    x=us_x, y=us_y, mode="markers", name="US Counties", legendrank=2,
    marker=dict(size=9, color="#1f77b4", opacity=0.37,
                line=dict(color="white", width=0.4)),
    hoverinfo="skip",
))

fig.add_trace(go.Scatter(
    x=wyoming_x, y=wyoming_y, mode="markers", name="Wyoming Counties", legendrank=3,
    marker=dict(size=9, color="#ff7f0e", line=dict(color="white", width=0.5)),
))

fig.add_trace(go.Scatter(
    x=fit_x, y=fit_y, mode="lines", name="Fit on 90th Percentile", legendrank=1,
    line=dict(color=INK, width=1.7, dash="6px,3px", shape="spline"),
))

axis_common = dict(
    showgrid=False, zeroline=False, showline=True, mirror=True,
    linecolor=SPINE, linewidth=1, ticks="outside", ticklen=4, tickwidth=1,
    tickcolor=SPINE, tickfont=dict(family=FONT, size=11, color=INK),
)

fig.update_xaxes(
    **axis_common,
    range=[-0.166, 3.625], tickvals=x_ticks, tickformat=".1f",
    title=dict(text="Log Land Quality", font=dict(family=FONT, size=12, color=INK), standoff=8),
)
fig.update_yaxes(
    **axis_common,
    type="log", range=[-0.2, 4.435], tickvals=y_ticks, ticktext=y_tick_labels,
    title=dict(text="1900 Population Density - People per Square Mile",
               font=dict(family=FONT, size=12, color=INK), standoff=10),
)

fig.update_layout(
    width=1111, height=740,
    margin=dict(l=81, r=2, t=26, b=43),
    paper_bgcolor="white", plot_bgcolor="white",
    font=dict(family=FONT, color=INK),
    title=dict(text="Land Quality and Population Density by US County in 1900",
               x=0.5, xref="paper", y=1 - 13 / 740, yref="container", yanchor="middle",
               font=dict(family=FONT, size=14, color=INK)),
    showlegend=True,
    legend=dict(x=0.007, y=0.99, xanchor="left", yanchor="top",
                bgcolor="white", bordercolor="#cccccc", borderwidth=1,
                font=dict(family=FONT, size=12, color=INK),
                itemwidth=30, tracegroupgap=0),
)

fig.write_html("out.html")
